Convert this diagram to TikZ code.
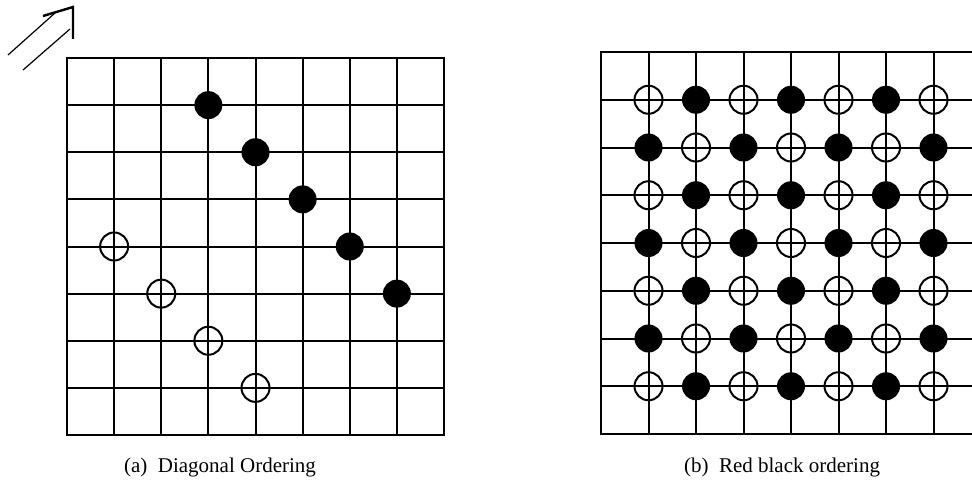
\documentclass[tikz,border=0pt]{standalone}
\usepackage{fontspec}
\setmainfont{Liberation Serif}
\usepackage{tikz}

\begin{document}
\begin{tikzpicture}[x=0.5pt, y=0.5pt,
    gridline/.style={line width=1pt, line cap=rect},
    blackdot/.style={fill=black},
    whitedot/.style={draw=black, line width=1pt},
    caption/.style={font=\fontsize{10.5}{12}\selectfont}]
  \clip (0,0) rectangle (972,483);

  % direction arrow
  \draw[line width=0.6pt] (8,428) -- (55,470);
  \draw[line width=0.6pt] (23,413) -- (70,454);
  \draw[line width=1.2pt] (43,467) -- (73,476) -- (73,444);

  % (a) diagonal ordering
  \begin{scope}[shift={(67,48)}, x=23.5625pt, y=23.5625pt]
    \foreach \k in {0,...,8} {
      \draw[gridline] (\k,0) -- (\k,8);
      \draw[gridline] (0,\k) -- (8,\k);
    }
    \foreach \c/\r in {3/7, 4/6, 5/5, 6/4, 7/3}
      \fill[blackdot] (\c,\r) circle[radius=7pt];
    \foreach \c/\r in {1/4, 2/3, 3/2, 4/1}
      \draw[whitedot] (\c,\r) circle[radius=7pt];
  \end{scope}
  \node[caption] (capA) at (220,16) {(a)\enspace Diagonal Ordering};

  % (b) red black ordering
  \begin{scope}[shift={(601,49)}, x=23.75pt, y=23.875pt]
    \foreach \k in {0,...,8} {
      \draw[gridline] (\k,0) -- (\k,8);
      \draw[gridline] (0,\k) -- (8,\k);
    }
    \foreach \c in {1,...,7}
      \foreach \r in {1,...,7} {
        \pgfmathtruncatemacro{\parity}{mod(\c+\r,2)}
        \ifnum\parity=0
          \draw[whitedot] (\c,\r) circle[radius=7pt];
        \else
          \fill[blackdot] (\c,\r) circle[radius=7pt];
        \fi
      }
  \end{scope}
  \node[caption] (capB) at (782,16) {(b)\enspace Red black ordering};
\end{tikzpicture}
\end{document}
